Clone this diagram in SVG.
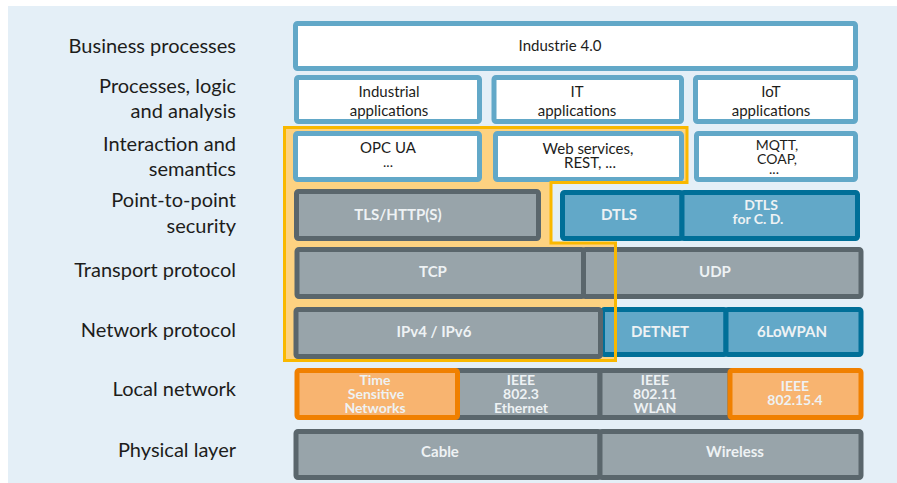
<svg xmlns="http://www.w3.org/2000/svg" width="897" height="483" viewBox="0 0 897 483">
  <style>
    .lbl { font-family: Lato, "Open Sans", sans-serif; font-size: 20px; fill: #1d1d1b; text-anchor: end; }
    .dk { font-family: Lato, "Open Sans", sans-serif; font-size: 15px; fill: #1d1d1b; text-anchor: middle; }
    .wt { font-family: Lato, "Open Sans", sans-serif; font-size: 15px; font-weight: bold; fill: #eef2f4; text-anchor: middle; }
    .sm { font-size: 14px; }
    .white { fill: #ffffff; stroke: #62a8c8; stroke-width: 5; }
    .gray { fill: #98a4aa; stroke: #5a666c; stroke-width: 5; }
    .blue { fill: #62a8c8; stroke: #006f98; stroke-width: 5; }
    .orange { fill: #f8b470; stroke: #f08000; stroke-width: 5; }
    .zone-fill { fill: #fdd281; stroke: none; }
    .zone-line { fill: none; stroke: #f9b800; stroke-width: 3; }
  </style>

  <!-- panel background -->
  <rect x="8" y="6" width="889" height="477" fill="#e4eff7"/>

  <!-- layer labels -->
  <g id="labels">
    <text class="lbl" x="236" y="53">Business processes</text>
    <text class="lbl" x="236" y="93">Processes, logic</text>
    <text class="lbl" x="236" y="118">and analysis</text>
    <text class="lbl" x="236" y="151">Interaction and</text>
    <text class="lbl" x="236" y="176">semantics</text>
    <text class="lbl" x="236" y="207">Point-to-point</text>
    <text class="lbl" x="236" y="233">security</text>
    <text class="lbl" x="236" y="277">Transport protocol</text>
    <text class="lbl" x="236" y="337">Network protocol</text>
    <text class="lbl" x="236" y="396">Local network</text>
    <text class="lbl" x="236" y="457">Physical layer</text>
  </g>

  <!-- highlighted stack area (fill behind the boxes) -->
  <path id="stack-zone" class="zone-fill" d="M284.5,127.5 H687 V182.5 H551 V243 H615.5 V360.5 H284.5 Z"/>

  <g id="industrie40">
    <rect class="white" x="295.5" y="23.5" width="560" height="45" rx="2"/>
    <text class="dk" x="560" y="51">Industrie 4.0</text>
  </g>

  <g id="industrial-apps">
    <rect class="white" x="296.5" y="77.5" width="183" height="44" rx="2"/>
    <text class="dk" x="389" y="97">Industrial</text>
    <text class="dk" x="389" y="116">applications</text>
  </g>
  <g id="it-apps">
    <rect class="white" x="494" y="77.5" width="187.5" height="44" rx="2"/>
    <text class="dk" x="577" y="97">IT</text>
    <text class="dk" x="577" y="116">applications</text>
  </g>
  <g id="iot-apps">
    <rect class="white" x="695.5" y="77.5" width="160" height="44" rx="2"/>
    <text class="dk" x="771" y="97">IoT</text>
    <text class="dk" x="771" y="116">applications</text>
  </g>

  <g id="opc-ua">
    <rect class="white" x="295.5" y="133.5" width="184" height="46" rx="2"/>
    <text class="dk" x="388" y="153">OPC UA</text>
    <text class="dk sm" x="388" y="167">...</text>
  </g>
  <g id="web-services">
    <rect class="white" x="495.5" y="133.5" width="186" height="46" rx="2"/>
    <text class="dk" x="588" y="154">Web services,</text>
    <text class="dk" x="590" y="168">REST, ...</text>
  </g>
  <g id="mqtt">
    <rect class="white" x="696.5" y="133.5" width="159" height="46" rx="2"/>
    <text class="dk sm" x="777" y="150">MQTT,</text>
    <text class="dk sm" x="777" y="164">COAP,</text>
    <text class="dk sm" x="774" y="174">...</text>
  </g>

  <g id="tls">
    <rect class="gray" x="296.5" y="191.5" width="242" height="47" rx="2"/>
    <text class="wt" x="398" y="220">TLS/HTTP(S)</text>
  </g>
  <g id="dtls">
    <rect class="blue" x="562.5" y="192.5" width="119.5" height="46" rx="2"/>
    <text class="wt" x="619" y="220">DTLS</text>
  </g>
  <g id="dtls-cd">
    <rect class="blue" x="682" y="192.5" width="175.5" height="46" rx="2"/>
    <text class="wt sm" x="761" y="210">DTLS</text>
    <text class="wt sm" x="758" y="224">for C. D.</text>
  </g>

  <g id="tcp">
    <rect class="gray" x="297" y="249.5" width="286.5" height="47" rx="2"/>
    <text class="wt" x="433" y="277">TCP</text>
  </g>
  <g id="udp">
    <rect class="gray" x="583.5" y="249.5" width="277.5" height="47" rx="2"/>
    <text class="wt" x="715" y="277">UDP</text>
  </g>

  <g id="detnet">
    <rect class="blue" x="602.5" y="309.5" width="123.5" height="45" rx="2"/>
    <text class="wt" x="660" y="337">DETNET</text>
  </g>
  <g id="6lowpan">
    <rect class="blue" x="726" y="309.5" width="135" height="45" rx="2"/>
    <text class="wt" x="792" y="337">6LoWPAN</text>
  </g>
  <g id="ip">
    <rect class="gray" x="296" y="309.5" width="304.5" height="47" rx="2"/>
    <text class="wt" x="434" y="337">IPv4 / IPv6</text>
  </g>

  <g id="ieee-802-3">
    <rect class="gray" x="457.5" y="370.5" width="142.5" height="47"/>
    <text class="wt sm" x="521" y="385">IEEE</text>
    <text class="wt sm" x="521" y="398.5">802.3</text>
    <text class="wt sm" x="521" y="412.5">Ethernet</text>
  </g>
  <g id="ieee-802-11">
    <rect class="gray" x="600" y="370.5" width="130" height="47"/>
    <text class="wt sm" x="655" y="385">IEEE</text>
    <text class="wt sm" x="655" y="398.5">802.11</text>
    <text class="wt sm" x="655" y="412.5">WLAN</text>
  </g>
  <g id="tsn">
    <rect class="orange" x="297" y="370.5" width="160.5" height="47" rx="2"/>
    <text class="wt sm" x="375" y="385">Time</text>
    <text class="wt sm" x="376" y="398.5">Sensitive</text>
    <text class="wt sm" x="375" y="412.5">Networks</text>
  </g>
  <g id="ieee-802-15-4">
    <rect class="orange" x="730" y="370.5" width="131" height="47" rx="2"/>
    <text class="wt sm" x="795" y="391">IEEE</text>
    <text class="wt sm" x="795" y="405">802.15.4</text>
  </g>

  <g id="cable">
    <rect class="gray" x="296" y="431.5" width="304" height="46" rx="2"/>
    <text class="wt" x="440" y="457">Cable</text>
  </g>
  <g id="wireless">
    <rect class="gray" x="600" y="431.5" width="261" height="46" rx="2"/>
    <text class="wt" x="735" y="457">Wireless</text>
  </g>

  <!-- outline of the highlighted stack, drawn over the boxes -->
  <g id="connectors">
    <path class="zone-line" d="M284.5,127.5 H687 V182.5 H551 V243 H615.5 V360.5 H284.5 Z"/>
  </g>
</svg>
